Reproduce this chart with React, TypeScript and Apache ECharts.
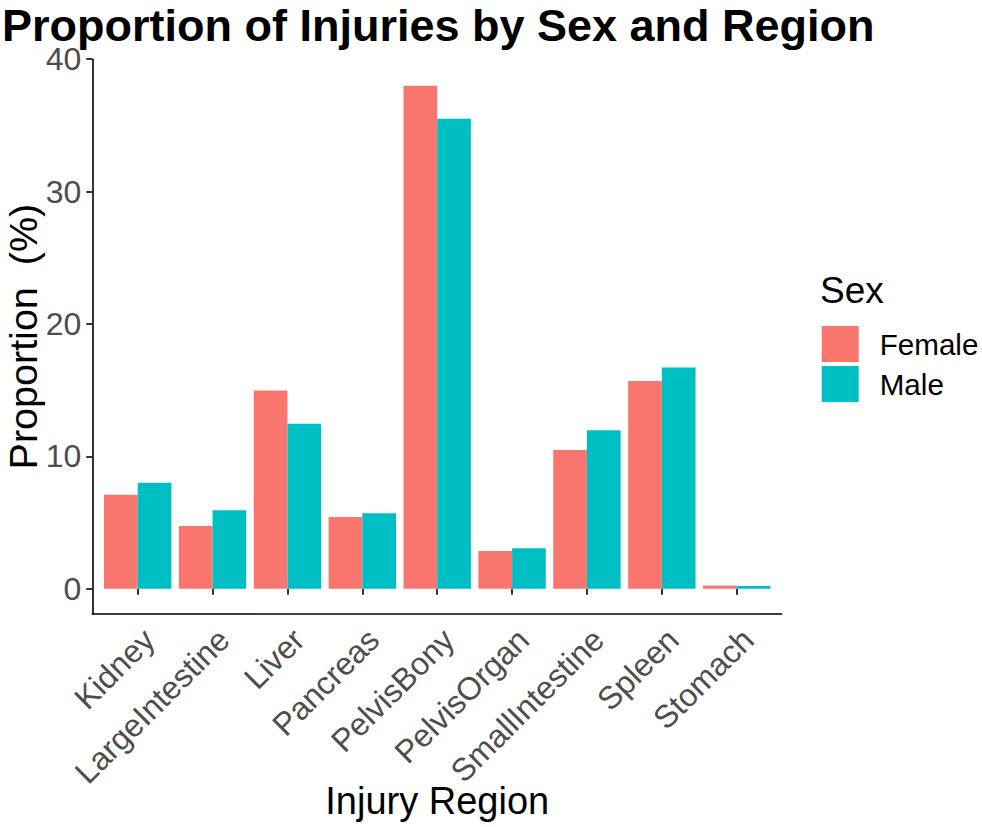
import React, { useEffect, useRef } from "react";
import * as echarts from "echarts";

const categories = [
  "Kidney",
  "LargeIntestine",
  "Liver",
  "Pancreas",
  "PelvisBony",
  "PelvisOrgan",
  "SmallIntestine",
  "Spleen",
  "Stomach",
];
const femaleValues = [7.1, 4.75, 14.97, 5.43, 38.0, 2.86, 10.49, 15.7, 0.26];
const maleValues = [8.02, 5.93, 12.46, 5.7, 35.5, 3.07, 11.98, 16.72, 0.21];
const yTicks = [0, 10, 20, 30, 40];
const seriesNames = ["Female", "Male"];

const FONT = "'Liberation Sans', Arial, Helvetica, sans-serif";
const Y_MIN = -1.9;
const Y_MAX = 40.0;

export default function App() {
  const ref = useRef<HTMLDivElement>(null);
  useEffect(() => {
    if (!ref.current) return;
    const chart = echarts.init(ref.current, null, { renderer: "svg" });
    chart.setOption({
      animation: false,
      backgroundColor: "#ffffff",
      textStyle: { fontFamily: FONT },
      title: [
        {
          text: "Proportion of Injuries by Sex and Region",
          left: 2,
          top: 5,
          padding: 0,
          textStyle: { fontFamily: FONT, fontWeight: "bold", fontSize: 45, lineHeight: 40, color: "#000" },
        },
        {
          text: "Sex",
          left: 820,
          top: 272,
          padding: 0,
          textStyle: { fontFamily: FONT, fontWeight: "normal", fontSize: 37, color: "#000" },
        },
      ],
      legend: {
        orient: "vertical",
        left: 821.7,
        top: 326,
        padding: 0,
        itemGap: 4,
        itemWidth: 37,
        itemHeight: 36,
        icon: "rect",
        data: seriesNames,
        textStyle: { fontFamily: FONT, fontSize: 29.6, color: "#000", padding: [0, 0, 0, 16] },
      },
      grid: [
        { left: 92.3, right: 982 - 781.7, top: 59.2, bottom: 213, containLabel: false, outerBoundsMode: "none" },
        { left: 100.25, right: 982 - 774.15, top: 59.2, bottom: 213, containLabel: false, outerBoundsMode: "none" },
      ],
      xAxis: [
        {
          gridIndex: 0,
          type: "value",
          min: 0,
          max: 1,
          axisLine: { show: true, onZero: false, lineStyle: { color: "#000", width: 1.6 } },
          axisTick: { show: false },
          axisLabel: { show: false },
          splitLine: { show: false },
        },
        {
          gridIndex: 1,
          type: "category",
          data: categories,
          axisLine: { show: false },
          axisTick: { show: true, alignWithLabel: true, length: 6, lineStyle: { color: "#000", width: 1.6 } },
          axisLabel: {
            interval: 0,
            rotate: 45,
            fontSize: 32,
            color: "#4D4D4D",
            margin: 9,
            align: "right",
            verticalAlign: "top",
            fontFamily: FONT,
          },
          name: "Injury Region",
          nameLocation: "middle",
          nameGap: 168,
          nameMoveOverlap: false,
          nameTextStyle: { fontFamily: FONT, fontSize: 38, color: "#000" },
        },
      ],
      yAxis: [
        {
          gridIndex: 0,
          type: "value",
          min: Y_MIN,
          max: Y_MAX,
          axisLine: { show: true, lineStyle: { color: "#000", width: 1.6 } },
          axisTick: { show: true, length: 6, customValues: yTicks, lineStyle: { color: "#000", width: 1.6 } },
          axisLabel: {
            customValues: yTicks,
            fontSize: 32,
            lineHeight: 24,
            color: "#4D4D4D",
            margin: 11,
            fontFamily: FONT,
          },
          splitLine: { show: false },
          name: "Proportion  (%)",
          nameLocation: "middle",
          nameGap: 49,
          nameMoveOverlap: false,
          nameTextStyle: { fontFamily: FONT, fontSize: 39.5, color: "#000" },
        },
        {
          gridIndex: 1,
          type: "value",
          min: Y_MIN,
          max: Y_MAX,
          show: false,
          splitLine: { show: false },
        },
      ],
      series: [
        {
          name: seriesNames[0],
          type: "bar",
          xAxisIndex: 1,
          yAxisIndex: 1,
          data: femaleValues,
          barGap: "0%",
          barCategoryGap: "10%",
          itemStyle: { color: "#F8766D" },
        },
        {
          name: seriesNames[1],
          type: "bar",
          xAxisIndex: 1,
          yAxisIndex: 1,
          data: maleValues,
          barGap: "0%",
          barCategoryGap: "10%",
          itemStyle: { color: "#00BFC4" },
        },
      ],
    });
    return () => chart.dispose();
  }, []);
  return (
    <div
      ref={ref}
      style={{ position: "fixed", left: 0, top: 0, width: 982, height: 827, background: "#fff" }}
    />
  );
}
